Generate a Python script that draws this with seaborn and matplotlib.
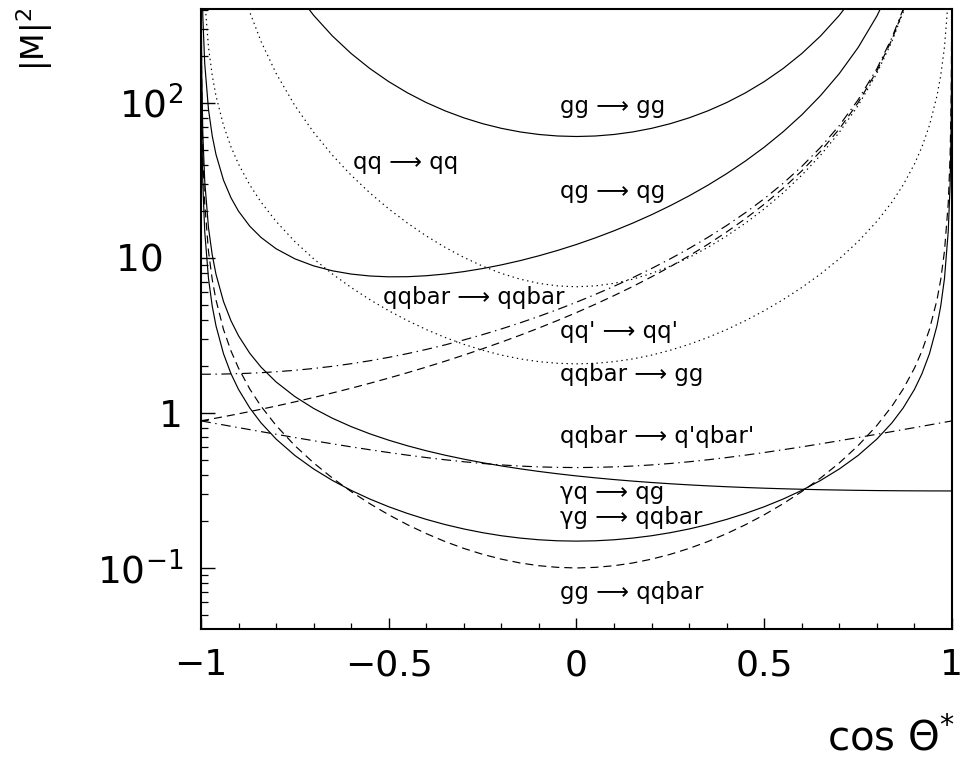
import numpy as np
import pandas as pd
import matplotlib
matplotlib.use('Agg')
import matplotlib.pyplot as plt
import matplotlib.ticker as mticker
import seaborn as sns

# ---------------- data ----------------
cos_theta = [-0.9995, -0.998, -0.995, -0.99, -0.98, -0.97, -0.96, -0.94, -0.92, -0.9, -0.87, -0.84,
             -0.8, -0.75, -0.7, -0.65, -0.6, -0.55, -0.5, -0.45, -0.4, -0.35, -0.3, -0.25, -0.2,
             -0.15, -0.1, -0.05, 0.0, 0.05, 0.1, 0.15, 0.2, 0.25, 0.3, 0.35, 0.4, 0.45, 0.5, 0.55,
             0.6, 0.65, 0.7, 0.75, 0.8, 0.84, 0.87, 0.9, 0.92, 0.94, 0.96, 0.97, 0.98, 0.99, 0.995,
             0.998, 0.9995]

gg_gg = [1.44e8, 8.991e6, 1.436e6, 3.582e5, 8.913e4, 3.943e4, 2.208e4, 9727, 5427, 3447, 2019, 1321,
         837.3, 531.5, 367.7, 270.5, 208.4, 166.6, 137.3, 116.2, 100.6, 88.96, 80.16, 73.53, 68.59,
         65.02, 62.61, 61.21, 60.75, 61.21, 62.61, 65.02, 68.59, 73.53, 80.16, 88.96, 100.6, 116.2,
         137.3, 166.6, 208.4, 270.5, 367.7, 531.5, 837.3, 1321, 2019, 3447, 5427, 9727, 2.208e4,
         3.943e4, 8.913e4, 3.582e5, 1.436e6, 8.991e6, 1.44e8]

qg_qg = [3558, 890.9, 357.6, 179.8, 90.94, 61.33, 46.55, 31.78, 24.43, 20.04, 16.03, 13.56, 11.47,
         9.875, 8.89, 8.263, 7.872, 7.649, 7.556, 7.57, 7.679, 7.877, 8.164, 8.544, 9.022, 9.611,
         10.33, 11.19, 12.22, 13.47, 14.97, 16.79, 19.01, 21.76, 25.17, 29.48, 35, 42.22, 51.85,
         65.07, 83.82, 111.6, 154.9, 227.8, 363.8, 578.8, 889, 1524, 2404, 4315, 9804, 1.751e4,
         3.96e4, 1.592e5, 6.4e5, 4e6, 6.4e7]

qq_qq = [2.843e7, 1.775e6, 2.835e5, 7.064e4, 1.754e4, 7744, 4327, 1898, 1053, 665, 385.6, 249.4,
         155.4, 96.21, 64.66, 46.02, 34.19, 26.26, 20.74, 16.78, 13.87, 11.71, 10.08, 8.857, 7.951,
         7.297, 6.857, 6.602, 6.519, 6.602, 6.857, 7.297, 7.951, 8.857, 10.08, 11.71, 13.87, 16.78,
         20.74, 26.26, 34.19, 46.02, 64.66, 96.21, 155.4, 249.4, 385.6, 665, 1053, 1898, 4327, 7744,
         1.754e4, 7.064e4, 2.835e5, 1.775e6, 2.843e7]

qqbar_qqbar = [1.778, 1.778, 1.778, 1.778, 1.778, 1.779, 1.78, 1.783, 1.788, 1.793, 1.805, 1.819,
               1.844, 1.884, 1.936, 2.0, 2.079, 2.172, 2.284, 2.415, 2.569, 2.749, 2.958, 3.201,
               3.484, 3.815, 4.201, 4.653, 5.185, 5.815, 6.565, 7.464, 8.551, 9.88, 11.52, 13.58,
               16.2, 19.6, 24.11, 30.27, 38.95, 51.72, 71.57, 104.8, 166.4, 263.5, 403.1, 687.9,
               1082, 1936, 4386, 7823, 1.766e4, 7.087e4, 2.84e5, 1.78e6, 2.84e7]

qqp_qqp = [0.8893, 0.8907, 0.8934, 0.8979, 0.907, 0.9164, 0.9259, 0.9456, 0.966, 0.9874, 1.021,
           1.057, 1.108, 1.179, 1.258, 1.346, 1.444, 1.555, 1.679, 1.819, 1.977, 2.157, 2.362,
           2.596, 2.864, 3.174, 3.534, 3.953, 4.444, 5.026, 5.717, 6.548, 7.556, 8.79, 10.32, 12.25,
           14.72, 17.93, 22.22, 28.1, 36.44, 48.78, 68.05, 100.4, 160.9, 256.4, 394.3, 676.4, 1068,
           1917, 4356, 7784, 1.76e4, 7.076e4, 2.84e5, 1.78e6, 2.84e7]

qqbar_qpqbarp = [0.8884, 0.8871, 0.8845, 0.88, 0.8713, 0.8626, 0.854, 0.8372, 0.8206, 0.8044, 0.7808,
                 0.758, 0.7289, 0.6944, 0.6622, 0.6322, 0.6044, 0.5789, 0.5556, 0.5344, 0.5156,
                 0.4989, 0.4844, 0.4722, 0.4622, 0.4544, 0.4489, 0.4456, 0.4444, 0.4456, 0.4489,
                 0.4544, 0.4622, 0.4722, 0.4844, 0.4989, 0.5156, 0.5344, 0.5556, 0.5789, 0.6044,
                 0.6322, 0.6622, 0.6944, 0.7289, 0.758, 0.7808, 0.8044, 0.8206, 0.8372, 0.854,
                 0.8626, 0.8713, 0.88, 0.8845, 0.8871, 0.8884]

qqbar_gg = [9474, 2363, 940.5, 466.4, 229.5, 150.5, 111.1, 71.69, 52.06, 40.34, 29.58, 22.92, 17.22,
            12.76, 9.877, 7.884, 6.447, 5.379, 4.568, 3.942, 3.453, 3.071, 2.772, 2.54, 2.362, 2.232,
            2.143, 2.091, 2.074, 2.091, 2.143, 2.232, 2.362, 2.54, 2.772, 3.071, 3.453, 3.942, 4.568,
            5.379, 6.447, 7.884, 9.877, 12.76, 17.22, 22.92, 29.58, 40.34, 52.06, 71.69, 111.1,
            150.5, 229.5, 466.4, 940.5, 2363, 9474]

gg_qqbar = [457, 114, 45.36, 22.5, 11.07, 7.26, 5.358, 3.458, 2.511, 1.946, 1.427, 1.105, 0.8308,
            0.6157, 0.4764, 0.3803, 0.311, 0.2595, 0.2203, 0.1901, 0.1666, 0.1481, 0.1337, 0.1225,
            0.114, 0.1077, 0.1034, 0.1009, 0.1, 0.1009, 0.1034, 0.1077, 0.114, 0.1225, 0.1337,
            0.1481, 0.1666, 0.1901, 0.2203, 0.2595, 0.311, 0.3803, 0.4764, 0.6157, 0.8308, 1.105,
            1.427, 1.946, 2.511, 3.458, 5.358, 7.26, 11.07, 22.5, 45.36, 114, 457]

gamq_qg = [628, 157, 62.8, 31.4, 15.7, 10.47, 7.853, 5.238, 3.931, 3.148, 2.426, 1.975, 1.586,
           1.276, 1.07, 0.9246, 0.8164, 0.7331, 0.6673, 0.6141, 0.5704, 0.5341, 0.5035, 0.4775,
           0.4553, 0.4361, 0.4195, 0.4051, 0.3925, 0.3815, 0.3718, 0.3633, 0.3559, 0.3493, 0.3436,
           0.3386, 0.3342, 0.3304, 0.3271, 0.3243, 0.3219, 0.3198, 0.3182, 0.3168, 0.3157, 0.3151,
           0.3147, 0.3144, 0.3143, 0.3141, 0.3141, 0.314, 0.314, 0.314, 0.314, 0.314, 0.314]

gamg_qqbar = [297.9, 74.43, 29.73, 14.83, 7.376, 4.893, 3.652, 2.411, 1.791, 1.419, 1.077, 0.8632,
              0.6788, 0.5321, 0.4353, 0.367, 0.3166, 0.2782, 0.2483, 0.2247, 0.2058, 0.1906,
              0.1785, 0.1689, 0.1614, 0.1559, 0.152, 0.1497, 0.149, 0.1497, 0.152, 0.1559, 0.1614,
              0.1689, 0.1785, 0.1906, 0.2058, 0.2247, 0.2483, 0.2782, 0.3166, 0.367, 0.4353, 0.5321,
              0.6788, 0.8632, 1.077, 1.419, 1.791, 2.411, 3.652, 4.893, 7.376, 14.83, 29.73, 74.43,
              297.9]

process_labels = ["gg ⟶ gg", "qg ⟶ qg", "qq ⟶ qq", "qqbar ⟶ qqbar", "qq' ⟶ qq'",
                  "qqbar ⟶ gg", "qqbar ⟶ q'qbar'", "γq ⟶ qg", "γg ⟶ qqbar", "gg ⟶ qqbar"]
x_ticks = [-1, -0.5, 0, 0.5, 1]
x_tick_labels = ["\u22121", "\u22120.5", "0", "0.5", "1"]
y_ticks = [0.1, 1, 10, 100]
y_tick_labels = ["$10^{-1}$", "1", "10\u2002", "$10^{2}$"]

# ---------------- styling ----------------
sns.set_style("ticks")
plt.rcParams['font.family'] = ['DejaVu Sans']
plt.rcParams['mathtext.fontset'] = 'dejavusans'
plt.rcParams['lines.scale_dashes'] = False
plt.rcParams['text.color'] = 'black'
plt.rcParams['xtick.color'] = 'black'
plt.rcParams['ytick.color'] = 'black'
plt.rcParams['axes.edgecolor'] = 'black'

SOLID = '-'
DOT = (0, (1.0, 2.6))
DASH = (0, (5.8, 3.6))
DASHDOT = (0, (7.0, 3.3, 1.0, 3.3))

curves = [
    (gg_gg, SOLID), (qg_qg, SOLID), (qq_qq, DOT), (qqbar_qqbar, DASHDOT), (qqp_qqp, DASH),
    (qqbar_gg, DOT), (qqbar_qpqbarp, DASHDOT), (gamq_qg, SOLID), (gamg_qqbar, SOLID), (gg_qqbar, DASH),
]

fig = plt.figure(figsize=(9.62, 7.6), dpi=100)
ax = fig.add_axes([0.2089, 0.1724, 0.7807, 0.8158])

for (vals, ls), name in zip(curves, process_labels):
    df = pd.DataFrame({"cos": cos_theta, "M2": vals})
    sns.lineplot(data=df, x="cos", y="M2", ax=ax, color="black", linewidth=0.85,
                 linestyle=ls, estimator=None, sort=False, legend=False)

ax.set_yscale('log')
ax.set_xlim(-1, 1)
ax.set_ylim(0.0404, 404)

# labels placed in data coordinates (x in cos, y in |M|^2)
label_x = [-0.043, -0.043, -0.595, -0.515, -0.043, -0.043, -0.043, -0.043, -0.043, -0.043]
label_y = [94.3, 26.7, 41.0, 5.52, 3.33, 1.78, 0.70, 0.305, 0.213, 0.069]
for txt, lx, ly in zip(process_labels, label_x, label_y):
    ax.text(lx, ly, txt, ha='left', va='center', fontsize=16.5, color='black')

ax.set_xticks(x_ticks)
ax.set_xticklabels(x_tick_labels)
ax.xaxis.set_minor_locator(mticker.MultipleLocator(0.1))
ax.set_yticks(y_ticks)
ax.set_yticklabels(y_tick_labels)
ax.yaxis.set_minor_locator(mticker.LogLocator(base=10, subs=np.arange(2, 10), numticks=20))
ax.yaxis.set_minor_formatter(mticker.NullFormatter())

ax.tick_params(axis='x', which='major', direction='in', length=8, width=1.0, labelsize=26, pad=14,
               top=False, colors='black')
ax.tick_params(axis='x', which='minor', direction='in', length=4.5, width=0.9, top=False, colors='black')
ax.tick_params(axis='y', which='major', direction='in', length=10, width=1.0, labelsize=27, pad=13,
               right=False, colors='black')
ax.tick_params(axis='y', which='minor', direction='in', length=5, width=0.9, right=False, colors='black')

for sp in ax.spines.values():
    sp.set_linewidth(1.5)
    sp.set_color('black')

ax.set_xlabel('')
ax.set_ylabel('')
fig.text(0.993, 0.012, r"cos $\Theta^{*}$", ha='right', va='baseline', fontsize=29, color='black')
fig.text(0.036, 0.949, r"|M|$^{2}$", ha='center', va='center', rotation=90, fontsize=23, color='black')

fig.savefig('out.png', dpi=100)
